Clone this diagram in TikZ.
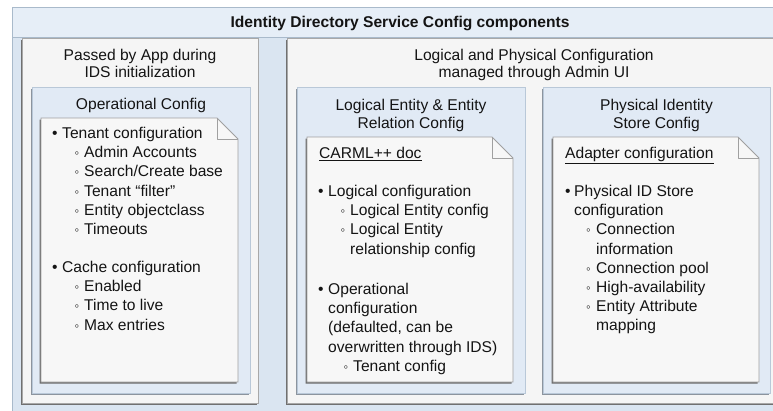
\documentclass[tikz,border=0pt]{standalone}
\usepackage{fontspec}
\setmainfont{Liberation Sans}
\definecolor{outerbd}{HTML}{A9BACB}
\definecolor{titlefill}{HTML}{E6EEF7}
\definecolor{bodyfill}{HTML}{DAE5F1}
\definecolor{panelfill}{HTML}{F5F5F5}
\definecolor{panelbd}{HTML}{A8A8A8}
\definecolor{panelsh}{HTML}{707070}
\definecolor{boxfill}{HTML}{E1EAF5}
\definecolor{boxbd}{HTML}{B9C8D8}
\definecolor{boxsh}{HTML}{8C949E}
\definecolor{docfill}{HTML}{F7F7F7}
\definecolor{docbd}{HTML}{A0A0A0}
\definecolor{docsh}{HTML}{6A6A6A}
\newcommand\fs{\fontsize{15.6}{17}\selectfont}
% shadowed rectangle: x1 y1 x2 y2 fill border shadow
\newcommand\shbox[7]{%
  \fill[#7] (#1-1.5,#2+1.5) rectangle (#3-1.5,#4+1.5);
  \filldraw[fill=#5,draw=#6,line width=0.8pt] (#1,#2) rectangle (#3,#4);}
% document with folded corner: x1 y1 x2 y2 fold
\newcommand\docshape[5]{%
  \fill[docsh] (#1-1.5,#2+1.5) -- (#3-#5-1.5,#2+1.5) -- (#3-1.5,#2+#5+1.5) -- (#3-1.5,#4+1.5) -- (#1-1.5,#4+1.5) -- cycle;
  \filldraw[fill=docfill,draw=docbd,line width=0.8pt] (#1,#2) -- (#3-#5,#2) -- (#3,#2+#5) -- (#3,#4) -- (#1,#4) -- cycle;
  \draw[docbd,line width=0.8pt,line join=round] (#3-#5,#2) -- (#3-#5,#2+#5) -- (#3,#2+#5);}
\begin{document}
\begin{tikzpicture}[x=1pt,y=-1pt,
  txt/.style={inner sep=0pt,anchor=base west,font=\fs,text=black!92},
  sub/.style={inner sep=0pt,anchor=base west,font=\fontsize{13}{15}\selectfont,text=black!92},
  head/.style={inner sep=0pt,anchor=base,font=\fs,text=black!92},
  ttl/.style={inner sep=0pt,anchor=base,font=\fs\bfseries,text=black!92}]
\useasboundingbox (0,0) rectangle (773,410);
\clip (0,0) rectangle (773,410);
% outer container
\fill[bodyfill] (12,7) rectangle (790,420);
\fill[titlefill] (12,7) rectangle (790,37);
\draw[outerbd,line width=0.8pt] (790,37) -- (12,37);
\draw[outerbd,line width=0.8pt] (12,420) -- (12,7) -- (790,7);
\node[ttl] (title) at (400,27.5) {Identity Directory Service Config components};
% panels
\shbox{22}{38}{258}{403}{panelfill}{panelbd}{panelsh}
\shbox{287}{38}{800}{403}{panelfill}{panelbd}{panelsh}
\node[head] (passedA) at (140,60) {Passed by App during};
\node[head] (passedB) at (140,77.5) {IDS initialization};
\node[head] (logphysA) at (534,60) {Logical and Physical Configuration};
\node[head] (logphysB) at (534,77.5) {managed through Admin UI};
% inner boxes
\shbox{32}{87}{250}{393}{boxfill}{boxbd}{boxsh}
\shbox{297}{87}{525}{393}{boxfill}{boxbd}{boxsh}
\shbox{543}{87}{770}{393}{boxfill}{boxbd}{boxsh}
\node[head] (opcfg) at (141,109.5) {Operational Config};
\node[head] (logentA) at (411,110) {Logical Entity \& Entity};
\node[head] (logentB) at (411,128) {Relation Config};
\node[head] (physidA) at (656.5,110) {Physical Identity};
\node[head] (physidB) at (656.5,128) {Store Config};
% documents
\docshape{41}{118}{238}{382}{21}
\docshape{307}{137}{513}{382}{21}
\docshape{553}{137}{759}{382}{21}
% operational config doc
\node[txt] (b1) at (52,138.5) {•};
\node[txt] (t1) at (62,138.5) {Tenant configuration};
\node[sub] (s1) at (74.5,157.7) {◦};
\node[txt] (t2) at (84,157.7) {Admin Accounts};
\node[sub] (s2) at (74.5,176.9) {◦};
\node[txt] (t3) at (84,176.9) {Search/Create base};
\node[sub] (s3) at (74.5,196.1) {◦};
\node[txt] (t4) at (84,196.1) {Tenant “filter”};
\node[sub] (s4) at (74.5,215.3) {◦};
\node[txt] (t5) at (84,215.3) {Entity objectclass};
\node[sub] (s5) at (74.5,234.5) {◦};
\node[txt] (t6) at (84,234.5) {Timeouts};
\node[txt] (b2) at (52,272.5) {•};
\node[txt] (t7) at (62,272.5) {Cache configuration};
\node[sub] (s6) at (74.5,291.7) {◦};
\node[txt] (t8) at (84,291.7) {Enabled};
\node[sub] (s7) at (74.5,310.9) {◦};
\node[txt] (t9) at (84,310.9) {Time to live};
\node[sub] (s8) at (74.5,330.1) {◦};
\node[txt] (t10) at (84,330.1) {Max entries};
% logical doc
\node[txt] (carml) at (319,158.5) {\underline{CARML++ doc}};
\node[txt] (lb1) at (318,196.5) {•};
\node[txt] (l1) at (328,196.5) {Logical configuration};
\node[sub] (ls1) at (340.5,215.7) {◦};
\node[txt] (l2) at (350,215.7) {Logical Entity config};
\node[sub] (ls2) at (340.5,234.9) {◦};
\node[txt] (l3) at (350,234.9) {Logical Entity};
\node[txt] (l4) at (350,254.1) {relationship config};
\node[txt] (lb2) at (318,294.5) {•};
\node[txt] (l5) at (328,294.5) {Operational};
\node[txt] (l6) at (328,313.7) {configuration};
\node[txt] (l7) at (328,332.9) {(defaulted, can be};
\node[txt] (l8) at (328,352.1) {overwritten through IDS)};
\node[sub] (ls3) at (343.5,371.3) {◦};
\node[txt] (l9) at (353,371.3) {Tenant config};
% physical doc
\node[txt] (adapt) at (565,158.5) {\underline{Adapter configuration}};
\node[txt] (pb1) at (565,196.5) {•};
\node[txt] (p1) at (574,196.5) {Physical ID Store};
\node[txt] (p2) at (574,215.7) {configuration};
\node[sub] (ps1) at (586,234.9) {◦};
\node[txt] (p3) at (596,234.9) {Connection};
\node[txt] (p4) at (596,254.1) {information};
\node[sub] (ps2) at (586,273.3) {◦};
\node[txt] (p5) at (596,273.3) {Connection pool};
\node[sub] (ps3) at (586,292.5) {◦};
\node[txt] (p6) at (596,292.5) {High-availability};
\node[sub] (ps4) at (586,311.7) {◦};
\node[txt] (p7) at (596,311.7) {Entity Attribute};
\node[txt] (p8) at (596,330.9) {mapping};
\end{tikzpicture}
\end{document}
